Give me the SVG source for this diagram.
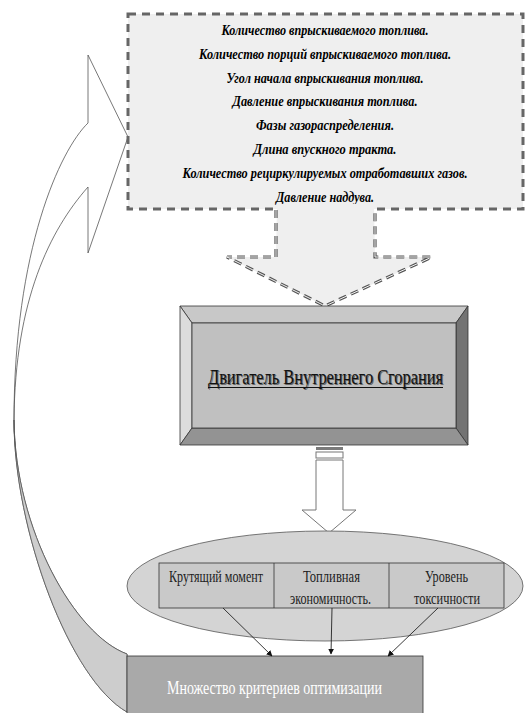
<svg xmlns="http://www.w3.org/2000/svg" width="526" height="713" viewBox="0 0 526 713">
<defs>
<style>
.pt{font-family:"Liberation Serif","DejaVu Serif","Times New Roman",serif;font-weight:bold;font-style:italic;font-size:14.5px;fill:#000;text-anchor:middle}
.tt{font-family:"Liberation Serif","DejaVu Serif","Times New Roman",serif;font-size:17px;fill:#222;text-anchor:middle}
.bt{font-family:"Liberation Serif","DejaVu Serif","Times New Roman",serif;text-anchor:middle}
.con{fill:none;stroke:#222;stroke-width:0.9}
</style>
<marker id="ah" viewBox="0 0 10 10" refX="9" refY="5" markerWidth="6" markerHeight="6" orient="auto" markerUnits="userSpaceOnUse">
<path d="M0,0 L10,5 L0,10 Z" fill="#111"/>
</marker>
</defs>
<rect width="526" height="713" fill="#fff"/>

<g id="feedback-arrow">
<path d="M88,187 L88,253 L128,137 L88,55 L88,123 C60,150 14,250 14,420 C14,530 70,680 127,712 L127,654 C75,635 15,530 14,420 C15,300 50,230 88,187 Z" fill="#fff" stroke="#555" stroke-width="0.8"/>
<path d="M14,420 C14,530 70,680 127,712 L127,654 C75,635 15,530 14,420 Z" fill="#cdcdcd" stroke="#555" stroke-width="0.8"/>
</g>

<g id="parameters">
<rect x="128" y="14" width="395" height="195" fill="#efefef" stroke="#666" stroke-width="3" stroke-dasharray="8 6"/>
<text class="pt" x="325" y="35" textLength="207" lengthAdjust="spacingAndGlyphs">Количество впрыскиваемого топлива.</text>
<text class="pt" x="325" y="58.5" textLength="252" lengthAdjust="spacingAndGlyphs">Количество порций впрыскиваемого топлива.</text>
<text class="pt" x="325" y="82.5" textLength="197" lengthAdjust="spacingAndGlyphs">Угол начала впрыскивания топлива.</text>
<text class="pt" x="325" y="106" textLength="185" lengthAdjust="spacingAndGlyphs">Давление впрыскивания топлива.</text>
<text class="pt" x="325" y="130" textLength="138" lengthAdjust="spacingAndGlyphs">Фазы газораспределения.</text>
<text class="pt" x="325" y="154" textLength="143" lengthAdjust="spacingAndGlyphs">Длина впускного тракта.</text>
<text class="pt" x="325" y="178" textLength="285" lengthAdjust="spacingAndGlyphs">Количество рециркулируемых отработавших газов.</text>
<text class="pt" x="325" y="202" textLength="98" lengthAdjust="spacingAndGlyphs">Давление наддува.</text>
</g>

<g id="input-arrow">
<polygon points="277,204 374,204 375,257 432,257 325,306 227,257 276,257" fill="#efefef"/>
<path d="M276,210 L276,257 L227,257 L325,306 L432,257 L375,257 L375,210" fill="none" stroke="#555" stroke-width="3.2" stroke-dasharray="8 5"/>
<path d="M276,210 L276,257 L227,257 L325,306 L432,257 L375,257 L375,210" fill="none" stroke="#f4f4f4" stroke-width="1" stroke-dasharray="8 5"/>
</g>

<g id="engine">
<polygon points="180,306 468,306 456,323 192,323" fill="#c8c8c8" stroke="#333" stroke-width="0.8"/>
<polygon points="180,306 192,323 192,428 180,445" fill="#dcdcdc" stroke="#333" stroke-width="0.8"/>
<polygon points="468,306 468,445 456,428 456,323" fill="#737373" stroke="#333" stroke-width="0.8"/>
<polygon points="180,445 192,428 456,428 468,445" fill="#939393" stroke="#333" stroke-width="0.8"/>
<rect x="192" y="323" width="264" height="105" fill="#c0c0c0" stroke="#333" stroke-width="0.8"/>
<text class="bt" x="326.5" y="384.5" font-size="20" fill="#666" textLength="235" lengthAdjust="spacingAndGlyphs">Двигатель Внутреннего Сгорания</text>
<text class="bt" x="325.5" y="384" font-size="20" fill="#111" textLength="235" lengthAdjust="spacingAndGlyphs">Двигатель Внутреннего Сгорания</text>
<line x1="208" y1="387.5" x2="443" y2="387.5" stroke="#111" stroke-width="1"/>
</g>

<g id="output-arrow">
<rect x="316" y="447" width="27" height="3" fill="#7a7a7a"/>
<rect x="316" y="452" width="27" height="6" fill="#fff" stroke="#777" stroke-width="1"/>
<polygon points="316,460 343,460 343,510 356,510 329,533 302,510 316,510" fill="#fff" stroke="#777" stroke-width="1"/>
</g>

<g id="criteria">
<ellipse cx="325" cy="586" rx="198" ry="55" fill="#d4d4d4" stroke="#555" stroke-width="0.8"/>
<rect x="159" y="563" width="345" height="45" fill="#c9c9c9" stroke="#333" stroke-width="0.8"/>
<line x1="274" y1="563" x2="274" y2="608" stroke="#333" stroke-width="0.8"/>
<line x1="389" y1="563" x2="389" y2="608" stroke="#333" stroke-width="0.8"/>
<text class="tt" x="216" y="582" textLength="94" lengthAdjust="spacingAndGlyphs">Крутящий момент</text>
<text class="tt" x="331.5" y="582" textLength="57" lengthAdjust="spacingAndGlyphs">Топливная</text>
<text class="tt" x="330.5" y="604" textLength="81" lengthAdjust="spacingAndGlyphs">экономичность.</text>
<text class="tt" x="446.5" y="582" textLength="43" lengthAdjust="spacingAndGlyphs">Уровень</text>
<text class="tt" x="447" y="604" textLength="66" lengthAdjust="spacingAndGlyphs">токсичности</text>
</g>

<g id="optimization">
<rect x="127" y="656" width="296" height="70" fill="#a9a9a9" stroke="#333" stroke-width="0.8"/>
<text class="bt" x="274.5" y="693.5" font-size="19" fill="#fff" textLength="215" lengthAdjust="spacingAndGlyphs">Множество критериев оптимизации</text>
</g>

<g id="connectors">
<line class="con" x1="223" y1="608" x2="272" y2="656" marker-end="url(#ah)"/>
<line class="con" x1="332" y1="608" x2="331" y2="654" marker-end="url(#ah)"/>
<line class="con" x1="438" y1="608" x2="388" y2="656" marker-end="url(#ah)"/>
</g>
</svg>
